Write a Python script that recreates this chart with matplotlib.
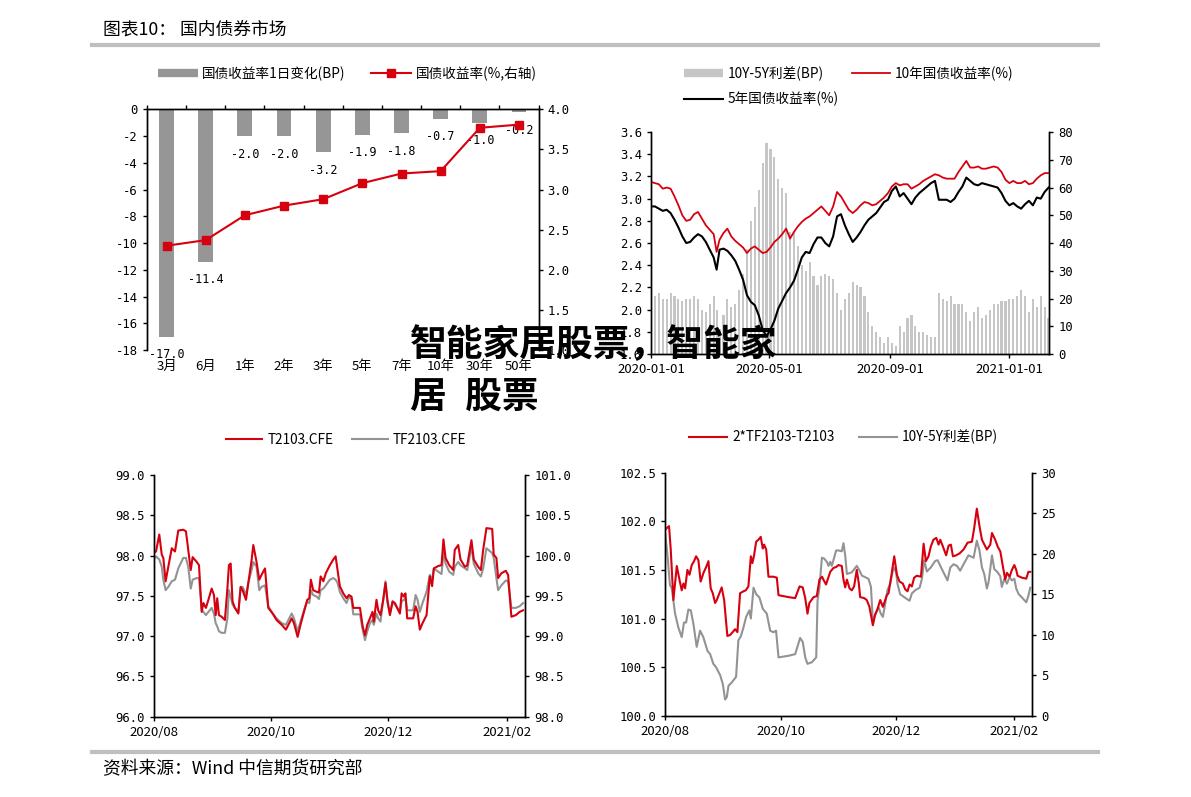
import numpy as np
import pandas as pd
import matplotlib
matplotlib.use('Agg')
import matplotlib.pyplot as plt
from matplotlib.lines import Line2D

plt.rcParams['font.family'] = ['Noto Sans CJK SC', 'DejaVu Sans']
plt.rcParams['axes.unicode_minus'] = False

RED = '#d7000f'
GRAY_LINE = '#939393'
BAR1 = '#969696'
BAR2 = '#c6c6c6'
MONO = 'DejaVu Sans Mono'

# ---- panel 1: curve ----
tenors = ['3月', '6月', '1年', '2年', '3年', '5年', '7年', '10年', '30年', '50年']
chg_bp = [-17.0, -11.4, -2.0, -2.0, -3.2, -1.9, -1.8, -0.7, -1.0, -0.2]
yld_pct = [2.30, 2.37, 2.68, 2.80, 2.88, 3.08, 3.20, 3.23, 3.77, 3.81]

# ---- panel 2: 10Y / 5Y yields, days after 2020-01-01 ----
p2_days = [0, 4, 8, 12, 16, 20, 24, 28, 32, 36, 40, 44, 48, 52, 56, 60, 64, 67,
           70, 74, 78, 82, 86, 90, 94, 98, 102, 106, 110, 114, 118, 122, 126, 130,
           134, 138, 142, 146, 150, 154, 158, 162, 166, 170, 174, 178, 182, 186,
           190, 194, 198, 202, 206, 210, 214, 218, 222, 226, 230, 234, 238, 242,
           246, 250, 254, 258, 262, 266, 270, 274, 278, 282, 286, 290, 294, 298,
           302, 306, 310, 314, 318, 322, 326, 330, 334, 338, 342, 346, 350, 354,
           358, 362, 366, 370, 374, 378, 382, 386, 390, 394, 398, 402, 406]
y10 = [3.15, 3.14, 3.13, 3.09, 3.10, 3.09, 3.02, 2.94, 2.85, 2.80, 2.81, 2.86, 2.88,
       2.82, 2.76, 2.72, 2.68, 2.52, 2.63, 2.69, 2.73, 2.66, 2.62, 2.59, 2.56, 2.51,
       2.55, 2.57, 2.54, 2.51, 2.52, 2.56, 2.61, 2.64, 2.68, 2.73, 2.64, 2.70, 2.75,
       2.79, 2.82, 2.84, 2.87, 2.90, 2.93, 2.89, 2.85, 2.93, 3.06, 3.02, 2.96, 2.90,
       2.87, 2.90, 2.94, 2.97, 2.96, 2.94, 2.95, 2.98, 3.01, 3.05, 3.11, 3.14, 3.12,
       3.13, 3.13, 3.09, 3.11, 3.13, 3.16, 3.18, 3.20, 3.22, 3.21, 3.19, 3.18, 3.18,
       3.18, 3.24, 3.29, 3.34, 3.28, 3.28, 3.29, 3.27, 3.27, 3.28, 3.29, 3.28, 3.24,
       3.17, 3.14, 3.16, 3.14, 3.14, 3.16, 3.13, 3.14, 3.18, 3.21, 3.23, 3.23]
y5 = [2.93, 2.93, 2.91, 2.89, 2.90, 2.87, 2.81, 2.74, 2.66, 2.60, 2.61, 2.65, 2.68,
      2.66, 2.61, 2.54, 2.47, 2.36, 2.54, 2.55, 2.53, 2.49, 2.44, 2.36, 2.27, 2.13,
      2.07, 2.04, 1.95, 1.82, 1.76, 1.82, 1.90, 2.01, 2.08, 2.15, 2.20, 2.26, 2.36,
      2.47, 2.52, 2.51, 2.59, 2.65, 2.65, 2.60, 2.57, 2.66, 2.84, 2.86, 2.76, 2.68,
      2.61, 2.65, 2.70, 2.76, 2.81, 2.84, 2.87, 2.92, 2.97, 2.99, 3.07, 3.11, 3.02,
      3.05, 3.00, 2.95, 3.01, 3.05, 3.08, 3.11, 3.14, 3.16, 2.99, 2.99, 2.99, 2.97,
      3.00, 3.06, 3.11, 3.19, 3.16, 3.13, 3.12, 3.14, 3.13, 3.12, 3.11, 3.10, 3.05,
      2.98, 2.94, 2.96, 2.93, 2.91, 2.95, 2.98, 2.94, 3.01, 3.00, 3.06, 3.10]

# ---- panel 3: T2103 / TF2103, days after 2020-08-01 ----
p3_days = [0.0, 1.3, 3.0, 4.3, 5.1, 6.3, 7.7, 9.5, 11.2, 12.9, 15.5, 16.9, 18.1, 19.4,
           20.4, 22.5, 23.7, 25.1, 26.0, 27.3, 28.6, 30.3, 31.5, 32.4, 33.2, 34.1,
           35.5, 37.2, 38.5, 39.3, 40.2, 41.2, 42.4, 44.2, 45.4, 46.4, 48.2, 49.4,
           51.1, 52.0, 53.7, 55.1, 56.3, 58.1, 59.8, 62.1, 64.1, 66.8, 69.0, 70.7,
           72.0, 73.2, 75.1, 76.6, 78.4, 80.1, 81.2, 82.0, 83.2, 85.0, 86.2, 87.1,
           88.5, 89.8, 91.9, 93.7, 94.9, 95.9, 97.1, 98.9, 100.6, 101.8, 103.2,
           104.1, 105.8, 107.6, 109.0, 110.2, 111.4, 112.8, 114.1, 114.8, 116.2,
           117.1, 118.3, 119.7, 120.9, 121.9, 123.2, 124.6, 125.8, 127.0, 128.4,
           129.3, 130.5, 131.3, 132.2, 133.9, 135.3, 136.6, 137.6, 138.8, 140.2,
           142.3, 144.0, 145.2, 146.1, 148.4, 150.1, 151.1, 152.2, 154.1, 156.2,
           157.0, 158.8, 160.0, 162.3, 163.5, 165.7, 166.9, 169.2, 170.6, 171.8,
           173.5, 176.5, 177.3, 178.7, 179.6, 181.3, 183.6, 184.8, 186.5, 188.8,
           190.8, 192.6]
t2103 = [98.03, 98.05, 98.26, 98.01, 97.97, 97.68, 97.86, 98.09, 98.05, 98.31, 98.32,
         98.30, 98.07, 97.82, 97.98, 97.92, 97.88, 97.30, 97.41, 97.35, 97.45, 97.59,
         97.51, 97.26, 97.47, 97.26, 97.24, 97.20, 97.59, 97.88, 97.90, 97.43, 97.35,
         97.28, 97.61, 97.57, 97.45, 97.66, 97.94, 98.13, 97.92, 97.70, 97.76, 97.84,
         97.35, 97.28, 97.20, 97.14, 97.08, 97.16, 97.22, 97.16, 96.99, 97.14, 97.30,
         97.45, 97.47, 97.70, 97.57, 97.55, 97.54, 97.74, 97.68, 97.78, 97.88, 97.95,
         97.99, 97.82, 97.62, 97.53, 97.47, 97.51, 97.49, 97.35, 97.35, 97.35, 97.12,
         97.01, 97.14, 97.22, 97.30, 97.18, 97.45, 97.32, 97.26, 97.45, 97.66, 97.45,
         97.26, 97.43, 97.41, 97.35, 97.28, 97.53, 97.49, 97.53, 97.22, 97.22, 97.22,
         97.37, 97.30, 97.08, 97.16, 97.26, 97.74, 97.62, 97.84, 97.87, 97.88, 98.20,
         97.97, 97.88, 97.82, 98.07, 98.13, 97.95, 97.86, 97.88, 98.19, 97.95, 97.86,
         97.82, 98.07, 98.34, 98.33, 98.01, 97.97, 97.72, 97.78, 97.81, 97.76, 97.24,
         97.26, 97.30, 97.32]
tf2103 = [99.95, 99.99, 99.95, 99.86, 99.70, 99.57, 99.61, 99.68, 99.70, 99.84, 99.97,
          99.97, 99.86, 99.59, 99.70, 99.72, 99.72, 99.33, 99.30, 99.26, 99.30, 99.35,
          99.28, 99.16, 99.12, 99.06, 99.04, 99.04, 99.22, 99.57, 99.49, 99.39, 99.35,
          99.30, 99.61, 99.61, 99.51, 99.66, 99.82, 99.92, 99.86, 99.57, 99.61, 99.63,
          99.37, 99.28, 99.22, 99.16, 99.14, 99.22, 99.28, 99.22, 99.06, 99.18, 99.32,
          99.43, 99.41, 99.57, 99.51, 99.49, 99.46, 99.57, 99.59, 99.63, 99.70, 99.72,
          99.70, 99.66, 99.55, 99.47, 99.41, 99.49, 99.45, 99.27, 99.27, 99.27, 99.08,
          98.95, 99.06, 99.16, 99.20, 99.14, 99.28, 99.22, 99.18, 99.45, 99.68, 99.41,
          99.28, 99.43, 99.39, 99.35, 99.30, 99.43, 99.45, 99.47, 99.32, 99.32, 99.32,
          99.51, 99.45, 99.30, 99.41, 99.55, 99.76, 99.70, 99.84, 99.80, 99.77, 100.03,
          99.90, 99.80, 99.76, 99.86, 99.92, 99.88, 99.84, 99.82, 100.11, 99.90, 99.78,
          99.74, 99.84, 100.09, 100.03, 99.97, 99.72, 99.57, 99.63, 99.69, 99.68, 99.35,
          99.35, 99.37, 99.41]

# ---- panel 4: 2*TF-T and 10Y-5Y spread, days after 2020-08-01 ----
p4_days_basis = [0.0, 0.9, 2.1, 3.0, 4.4, 6.2, 7.6, 8.8, 9.7, 10.6, 11.8, 12.9, 14.1,
                 15.3, 16.4, 17.6, 18.8, 20.3, 21.7, 22.9, 24.1, 25.2, 26.4, 27.3,
                 28.7, 29.9, 31.2, 32.9, 34.3, 35.7, 37.0, 38.2, 39.6, 41.4, 42.6,
                 44.0, 45.3, 46.1, 47.0, 48.1, 49.3, 50.5, 51.6, 52.3, 53.4, 54.6,
                 57.2, 59.0, 59.9, 62.5, 65.2, 68.7, 71.0, 72.7, 74.0, 75.2, 76.2,
                 78.4, 80.1, 81.5, 82.9, 83.6, 85.0, 87.2, 88.9, 90.3, 91.6, 93.3,
                 94.2, 95.1, 96.0, 97.4, 98.6, 99.8, 101.2, 102.3, 103.0, 105.1,
                 106.5, 107.9, 109.7, 110.9, 112.2, 113.6, 115.0, 116.2, 117.1, 118.0,
                 119.7, 121.0, 122.4, 123.8, 125.5, 126.8, 128.0, 129.1, 130.3, 131.5,
                 132.9, 135.1, 136.5, 137.7, 139.1, 140.3, 141.7, 143.2, 144.4, 145.3,
                 146.7, 148.4, 149.7, 150.9, 152.0, 153.7, 155.5, 157.6, 159.7, 162.0,
                 163.2, 164.6, 166.0, 167.3, 169.9, 171.7, 172.6, 174.3, 175.6, 177.0,
                 178.4, 179.6, 180.5, 181.9, 183.1, 184.4, 185.4, 186.1, 188.4, 190.7,
                 191.8, 192.8]
basis = [101.91, 101.93, 101.95, 101.71, 101.19, 101.54, 101.40, 101.29, 101.36,
         101.31, 101.50, 101.45, 101.55, 101.59, 101.64, 101.60, 101.38, 101.47,
         101.53, 101.59, 101.31, 101.26, 101.16, 101.19, 101.26, 101.32, 101.19,
         100.82, 100.83, 100.86, 100.89, 100.86, 101.26, 101.28, 101.29, 101.33,
         101.64, 101.57, 101.65, 101.79, 101.81, 101.84, 101.72, 101.76, 101.71,
         101.43, 101.43, 101.42, 101.24, 101.23, 101.22, 101.21, 101.33, 101.32,
         101.21, 101.05, 101.16, 101.22, 101.23, 101.40, 101.43, 101.40, 101.35,
         101.48, 101.52, 101.53, 101.55, 101.54, 101.40, 101.32, 101.40, 101.31,
         101.29, 101.33, 101.50, 101.36, 101.22, 101.21, 101.19, 101.12, 100.93,
         101.04, 101.10, 101.19, 101.12, 101.19, 101.24, 101.26, 101.47, 101.64,
         101.45, 101.38, 101.36, 101.30, 101.28, 101.35, 101.33, 101.42, 101.44,
         101.43, 101.77, 101.59, 101.64, 101.74, 101.81, 101.83, 101.76, 101.81,
         101.74, 101.65, 101.75, 101.76, 101.64, 101.65, 101.67, 101.71, 101.78,
         101.79, 101.93, 102.13, 101.95, 101.81, 101.71, 101.76, 101.88, 101.81,
         101.74, 101.69, 101.53, 101.40, 101.47, 101.43, 101.50, 101.55, 101.50,
         101.44, 101.42, 101.41, 101.48, 101.48]
p4_days_spread = [0.0, 1.2, 2.6, 3.5, 4.4, 5.3, 7.0, 8.8, 10.0, 11.1, 12.3, 13.6, 15.0,
                  16.7, 18.5, 20.2, 22.4, 23.8, 25.5, 26.9, 29.1, 30.5, 31.7, 32.6,
                  33.5, 35.2, 37.5, 38.7, 40.0, 41.4, 42.8, 44.5, 45.3, 46.7, 48.1,
                  49.8, 51.6, 53.7, 55.5, 57.2, 58.6, 59.9, 62.5, 65.2, 68.7, 71.3,
                  72.7, 74.0, 75.2, 77.5, 79.8, 80.5, 81.5, 82.8, 84.0, 85.4, 86.3,
                  87.2, 88.0, 88.9, 90.3, 91.6, 93.3, 94.2, 95.1, 96.0, 98.6, 101.2,
                  102.7, 103.9, 105.7, 107.4, 108.7, 109.7, 110.9, 112.7, 113.9,
                  115.0, 116.2, 117.4, 118.9, 120.6, 122.0, 122.7, 124.1, 125.9,
                  127.7, 129.1, 130.3, 132.1, 134.4, 135.6, 136.8, 138.2, 140.3,
                  142.6, 143.9, 145.3, 147.0, 149.1, 150.6, 152.3, 154.1, 155.8,
                  157.6, 160.2, 162.9, 164.6, 166.0, 167.3, 168.5, 169.9, 170.8,
                  172.6, 173.8, 175.6, 177.0, 177.8, 179.1, 180.5, 181.9, 183.1,
                  184.4, 185.4, 186.7, 188.4, 190.7, 191.8, 192.8]
spread_bp = [22.6, 20.0, 16.1, 15.8, 14.2, 12.6, 10.9, 9.7, 11.5, 11.5, 13.1, 13.0, 11.3,
             8.5, 10.5, 9.7, 8.0, 7.6, 6.4, 6.0, 5.0, 3.9, 2.0, 2.3, 3.7, 4.1, 4.8, 9.3,
             9.8, 10.9, 12.2, 13.0, 12.0, 15.8, 15.0, 14.6, 13.2, 12.6, 10.5, 10.3, 10.5,
             7.2, 7.3, 7.4, 7.6, 9.6, 9.1, 7.2, 6.4, 6.6, 7.2, 14.2, 15.8, 19.5, 19.4,
             19.0, 18.5, 19.0, 18.5, 19.2, 20.4, 20.4, 20.3, 21.3, 19.8, 17.5, 17.7, 18.5,
             17.9, 17.3, 17.1, 16.9, 15.9, 11.7, 12.4, 13.4, 12.6, 12.2, 13.8, 15.5, 16.3,
             18.3, 17.7, 16.3, 15.0, 14.7, 14.4, 14.2, 15.1, 15.5, 15.8, 16.9, 19.2, 17.8,
             18.3, 19.1, 19.2, 18.5, 17.7, 16.7, 18.3, 18.7, 18.5, 17.9, 18.7, 19.8, 19.5,
             21.6, 20.4, 18.3, 17.5, 15.7, 16.5, 19.8, 18.1, 17.7, 17.2, 15.9, 16.9, 16.3,
             17.1, 16.7, 16.9, 15.7, 15.0, 14.6, 14.0, 14.8, 15.8]

# ---------------------------------------------------------------
fig = plt.figure(figsize=(11.91, 7.97), dpi=100)
LEG_FS = 9.8

def style_axis(ax, sides=('left', 'right', 'bottom')):
    for s in ['left', 'right', 'top', 'bottom']:
        ax.spines[s].set_visible(s in sides)
        ax.spines[s].set_linewidth(1.0)
        ax.spines[s].set_color('black')
    ax.tick_params(direction='out', length=3, width=1, labelsize=9.5, pad=3.5)

def num_labels(vals, fmt):
    return [fmt.format(v) for v in vals]

# ---- panel 1 ----
ax1 = fig.add_axes([0.1234, 0.5608, 0.3288, 0.3020])
x1 = np.arange(len(tenors))
ax1.bar(x1, chg_bp, width=0.38, color=BAR1, zorder=2)
ax1.set_xlim(-0.5, len(tenors) - 0.5)
ax1.set_ylim(-18, 0)
style_axis(ax1, ('left', 'right', 'top'))
yt1 = np.arange(-18, 1, 2)
ax1.set_yticks(yt1, num_labels(yt1, '{:d}'), fontfamily=MONO, fontsize=8.8)
ax1.set_xticks(x1, tenors, fontsize=9.5)
ax1.set_xticks(np.arange(-0.5, len(tenors)), minor=True)
ax1.tick_params(axis='x', which='major', length=0, pad=7, bottom=True, labelbottom=True)
ax1.tick_params(axis='x', which='minor', top=True, bottom=False, direction='out', length=3, width=1)
for xv, val in zip(x1, chg_bp):
    ax1.annotate(f'{val:.1f}', (xv, val), xytext=(0, -13), textcoords='offset points',
                 ha='center', va='center', fontfamily=MONO, fontsize=8.5)

ax1r = ax1.twinx()
ax1r.plot(x1, yld_pct, color=RED, lw=1.5, marker='s', ms=6, zorder=3)
ax1r.set_ylim(1.0, 4.0)
style_axis(ax1r, ('left', 'right', 'top'))
yt1r = np.arange(1.0, 4.01, 0.5)
ax1r.set_yticks(yt1r, num_labels(yt1r, '{:.1f}'), fontfamily=MONO, fontsize=8.8)

fig.legend(handles=[Line2D([], [], color=BAR1, lw=6, solid_capstyle='butt'),
                    Line2D([], [], color=RED, lw=1.5, marker='s', ms=6)],
           labels=['国债收益率1日变化(BP)', '国债收益率(%,右轴)'],
           loc='center', bbox_to_anchor=(0.2914, 0.9072), ncol=2, frameon=False,
           fontsize=LEG_FS, handlelength=2.95, handletextpad=0.3, columnspacing=1.9)

# ---- panel 2 ----
base2 = pd.Timestamp('2020-01-01')
d2 = base2 + pd.to_timedelta(p2_days, unit='D')
spread2 = np.clip((np.array(y10) - np.array(y5)) * 100, 0, None)

ax2 = fig.add_axes([0.5466, 0.5558, 0.3342, 0.2785])
ax2b = ax2.twinx()
ax2.set_zorder(ax2b.get_zorder() + 1)
ax2.patch.set_visible(False)
ax2b.bar(d2, spread2, width=2.2, color=BAR2, lw=0)
ax2.plot(d2, y10, color=RED, lw=1.3)
ax2.plot(d2, y5, color='black', lw=1.5)
ax2.set_xlim(base2, base2 + pd.Timedelta(days=406.5))
ax2.set_ylim(1.6, 3.6)
ax2b.set_ylim(0, 80)
style_axis(ax2)
style_axis(ax2b)
yt2 = np.arange(1.6, 3.61, 0.2)
ax2.set_yticks(yt2, num_labels(yt2, '{:.1f}'), fontfamily=MONO, fontsize=8.8)
yt2b = np.arange(0, 81, 10)
ax2b.set_yticks(yt2b, num_labels(yt2b, '{:d}'), fontfamily=MONO, fontsize=8.8)
xt2 = ['2020-01-01', '2020-05-01', '2020-09-01', '2021-01-01']
ax2.set_xticks([pd.Timestamp(s) for s in xt2], xt2, fontsize=9.5)

fig.legend(handles=[Line2D([], [], color=BAR2, lw=6, solid_capstyle='butt'),
                    Line2D([], [], color='black', lw=1.5),
                    Line2D([], [], color=RED, lw=1.3)],
           labels=['10Y-5Y利差(BP)', '5年国债收益率(%)', '10年国债收益率(%)'],
           loc='center', bbox_to_anchor=(0.7128, 0.8915), ncol=2, frameon=False,
           fontsize=LEG_FS, handlelength=2.8, handletextpad=0.35, columnspacing=1.0,
           labelspacing=0.8)

# ---- panel 3 ----
base34 = pd.Timestamp('2020-08-01')
d3 = base34 + pd.to_timedelta(p3_days, unit='D')
xt34 = ['2020/08', '2020/10', '2020/12', '2021/02']
xt34_dates = [pd.Timestamp(s.replace('/', '-') + '-01') for s in xt34]

ax3 = fig.add_axes([0.1289, 0.1008, 0.3119, 0.3033])
ax3r = ax3.twinx()
ax3.set_zorder(ax3r.get_zorder() + 1)
ax3.patch.set_visible(False)
ax3r.plot(d3, tf2103, color=GRAY_LINE, lw=1.5)
ax3.plot(d3, t2103, color=RED, lw=1.5)
ax3.set_xlim(base34, base34 + pd.Timedelta(days=193.6))
ax3.set_ylim(96.0, 99.0)
ax3r.set_ylim(98.0, 101.0)
style_axis(ax3)
style_axis(ax3r)
yt3 = np.arange(96.0, 99.01, 0.5)
ax3.set_yticks(yt3, num_labels(yt3, '{:.1f}'), fontfamily=MONO, fontsize=8.8)
yt3r = np.arange(98.0, 101.01, 0.5)
ax3r.set_yticks(yt3r, num_labels(yt3r, '{:.1f}'), fontfamily=MONO, fontsize=8.8)
ax3.set_xticks(xt34_dates, xt34, fontsize=9.5)

fig.legend(handles=[Line2D([], [], color=RED, lw=1.5),
                    Line2D([], [], color=GRAY_LINE, lw=1.5)],
           labels=['T2103.CFE', 'TF2103.CFE'],
           loc='center', bbox_to_anchor=(0.2909, 0.4479), ncol=2, frameon=False,
           fontsize=LEG_FS, handlelength=2.6, handletextpad=0.4, columnspacing=1.4)

# ---- panel 4 ----
d4a = base34 + pd.to_timedelta(p4_days_basis, unit='D')
d4b = base34 + pd.to_timedelta(p4_days_spread, unit='D')

ax4 = fig.add_axes([0.5584, 0.1020, 0.3079, 0.3049])
ax4r = ax4.twinx()
ax4.set_zorder(ax4r.get_zorder() + 1)
ax4.patch.set_visible(False)
ax4r.plot(d4b, spread_bp, color=GRAY_LINE, lw=1.5)
ax4.plot(d4a, basis, color=RED, lw=1.5)
ax4.set_xlim(base34, base34 + pd.Timedelta(days=193.6))
ax4.set_ylim(100.0, 102.5)
ax4r.set_ylim(0, 30)
style_axis(ax4)
style_axis(ax4r)
yt4 = np.arange(100.0, 102.51, 0.5)
ax4.set_yticks(yt4, num_labels(yt4, '{:.1f}'), fontfamily=MONO, fontsize=8.8)
yt4r = np.arange(0, 31, 5)
ax4r.set_yticks(yt4r, num_labels(yt4r, '{:d}'), fontfamily=MONO, fontsize=8.8)
ax4.set_xticks(xt34_dates, xt34, fontsize=9.5)

fig.legend(handles=[Line2D([], [], color=RED, lw=1.5),
                    Line2D([], [], color=GRAY_LINE, lw=1.5)],
           labels=['2*TF2103-T2103', '10Y-5Y利差(BP)'],
           loc='center', bbox_to_anchor=(0.7082, 0.4517), ncol=2, frameon=False,
           fontsize=LEG_FS, handlelength=2.8, handletextpad=0.35, columnspacing=1.8)

# ---- page furniture ----
fig.text(0.0865, 0.9624, '图表10： 国内债券市场', fontsize=12.8, ha='left', va='center')
fig.add_artist(Line2D([0.0772, 0.922], [0.9435, 0.9435], transform=fig.transFigure,
                      lw=3, color='#bfbfbf'))
fig.add_artist(Line2D([0.0772, 0.922], [0.0565, 0.0565], transform=fig.transFigure,
                      lw=3, color='#bfbfbf'))
fig.text(0.0865, 0.0351, '资料来源：Wind 中信期货研究部', fontsize=12.8, ha='left', va='center')

# overlay caption
fig.text(0.3443, 0.5671, '智能家居股票，智能家', fontsize=26.5, fontweight='heavy',
         ha='left', va='center', zorder=20)
fig.text(0.3443, 0.5019, '居\u2002股票', fontsize=26.5, fontweight='heavy',
         ha='left', va='center', zorder=20)

fig.savefig('out.png', dpi=100)
